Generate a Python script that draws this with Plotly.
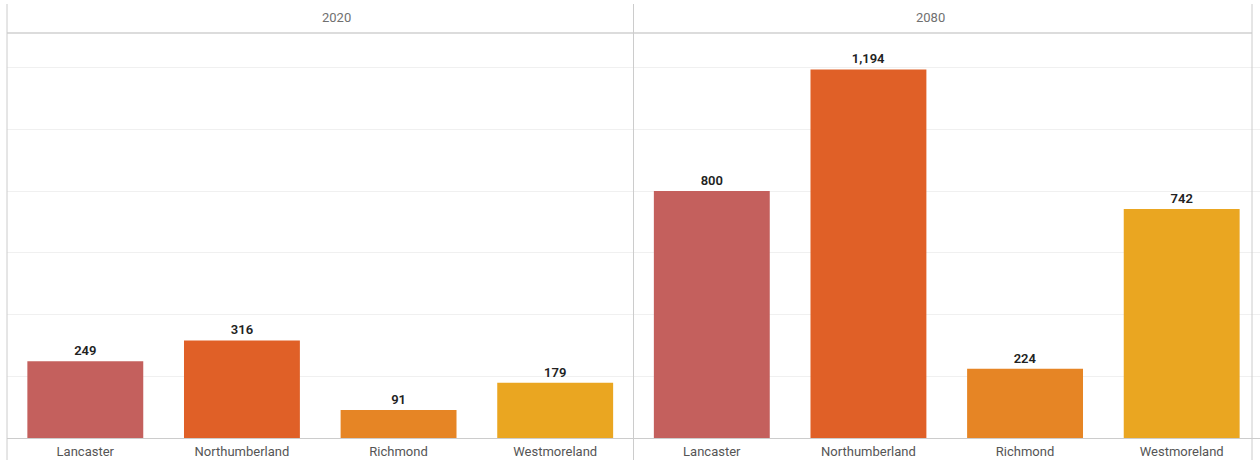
import plotly.graph_objects as go

categories = ["Lancaster", "Northumberland", "Richmond", "Westmoreland"]
values_2020 = [249, 316, 91, 179]
values_2080 = [800, 1194, 224, 742]
years = ["2020", "2080"]
colors = ["#C4605D", "#E06027", "#E68525", "#EAA621"]

W, H = 1260, 460
L, R, T, B = 7, 0, 33, 22
pw = W - L - R
split = (633.5 - L) / pw
right_line = (1252 - L) / pw

fig = go.Figure()
for i, (yr, vals) in enumerate(zip(years, [values_2020, values_2080])):
    fig.add_trace(go.Bar(
        x=categories, y=vals, marker_color=colors, marker_line_width=0,
        text=vals, texttemplate="%{y:,}", textposition="outside",
        textfont=dict(family="Roboto", size=13, color="#222222", weight=600),
        cliponaxis=False, showlegend=False,
        xaxis="x" if i == 0 else "x2", yaxis="y",
        hovertemplate="%{x}: %{y:,}<extra>" + yr + "</extra>",
    ))

axis_common = dict(
    showgrid=False, zeroline=False, showline=False, ticks="",
    tickfont=dict(family="Roboto", size=13, color="#555555"),
    ticklabelstandoff=4,
    fixedrange=True,
)
fig.update_layout(
    width=W, height=H,
    margin=dict(l=L, r=R, t=T, b=B, pad=0),
    paper_bgcolor="white", plot_bgcolor="white",
    bargap=0.26,
    xaxis=dict(domain=[0, split], **axis_common),
    xaxis2=dict(domain=[split, 1], anchor="y", **axis_common),
    yaxis=dict(range=[0, 1312], dtick=200, showgrid=True, gridcolor="#F0F0F0",
               gridwidth=1, showticklabels=False, zeroline=True,
               zerolinecolor="#CCCCCC", zerolinewidth=1, fixedrange=True),
    font=dict(family="Roboto"),
)

# header line and panel dividers
ph = H - T - B
fig.add_shape(type="line", xref="paper", yref="paper", x0=0, x1=right_line, y0=1, y1=1,
              line=dict(color="#D0D0D0", width=1.5))
for xv in [0, split, right_line]:
    fig.add_shape(type="line", xref="paper", yref="paper", x0=xv, x1=xv,
                  y0=-B / ph, y1=1 + (T - 4) / ph,
                  line=dict(color="#CCCCCC", width=1))

# panel titles
for yr, (a, b) in zip(years, [(0, split), (split, 1)]):
    fig.add_annotation(text=yr, xref="paper", yref="paper", x=(a + b) / 2,
                       y=1 + 16 / ph, showarrow=False, yanchor="middle",
                       font=dict(family="Roboto", size=13, color="#707070"))

fig.write_html("out.html")
